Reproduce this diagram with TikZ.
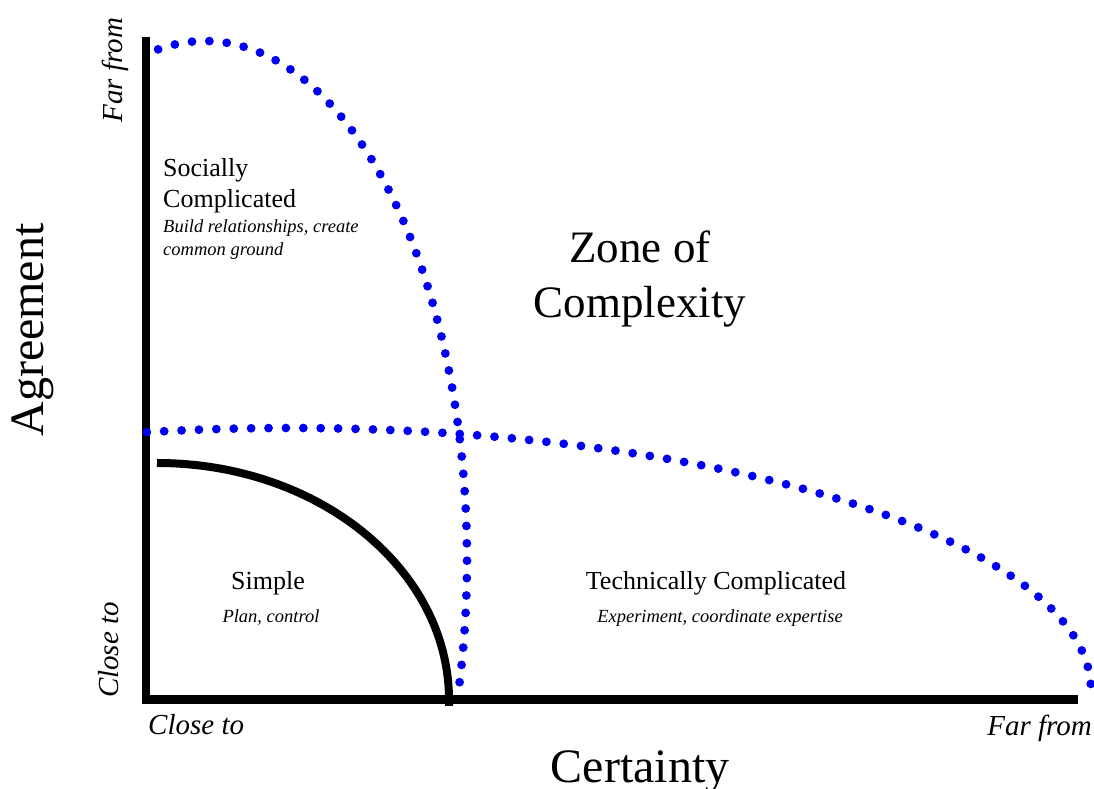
\documentclass[tikz,border=0pt]{standalone}
\usepackage{fontspec}
\setmainfont{Liberation Serif}
\definecolor{dotblue}{RGB}{0,0,240}
\tikzset{
  axisline/.style={line width=8.5pt, line cap=butt, line join=miter, black},
  simplearc/.style={line width=8pt, black},
  dotline/.style={dotblue, line width=8.8pt, line cap=round, dash pattern=on 0pt off 17.4pt},
  lbl/.style={inner sep=0pt, anchor=base},
}
\newcommand{\fs}[1]{\fontsize{#1}{#1}\selectfont}
\begin{document}
\begin{tikzpicture}[x=1pt,y=1pt]
\useasboundingbox (0,0) rectangle (1094,789);
% axes
\coordinate (top) at (146,752);
\coordinate (origin) at (146,89.5);
\coordinate (right) at (1078,89.5);
\draw[axisline] (top) -- (origin) -- (right);
% simple arc
\coordinate (arcstart) at (157,326);
\coordinate (arcend) at (449,83);
\draw[simplearc] (arcstart) arc[start angle=90, end angle=0, x radius=292, y radius=237] -- (arcend);
% dotted curves
\coordinate (d1start) at ({205+262*cos(100.3)},{229+519*sin(100.3)});
\draw[dotline] (d1start) arc[start angle=100.3, end angle=-14.5, x radius=262, y radius=519];
\coordinate (d2start) at ({290+801*cos(100.3)},{99+262*sin(100.3)});
\draw[dotline] (d2start) arc[start angle=100.3, end angle=1, x radius=801, y radius=262];
% axis titles
\node[lbl, rotate=90] (agree) at (43,459) {\fs{48}Agreement};
\node[lbl] (cert) at (640,6) {\fs{48}Certainty};
% axis end labels
\node[lbl, rotate=90] (yfar) at (122,719) {\fs{29}\itshape Far from};
\node[lbl, rotate=90] (yclose) at (118,139) {\fs{29}\itshape Close to};
\node[lbl, anchor=base west] (xclose) at (148,54) {\fs{29}\itshape Close to};
\node[lbl, anchor=base east] (xfar) at (1092,53) {\fs{29}\itshape Far from};
% zone labels
\node[lbl, anchor=base west] (soc1) at (163,612) {\fs{26}Socially};
\node[lbl, anchor=base west] (soc2) at (163,581) {\fs{26}Complicated};
\node[lbl, anchor=base west] (soc3) at (163,556) {\fs{18.5}\itshape Build relationships, create};
\node[lbl, anchor=base west] (soc4) at (163,533) {\fs{18.5}\itshape common ground};
\node[lbl] (zone1) at (640,526) {\fs{45}Zone of};
\node[lbl] (zone2) at (640,471) {\fs{45}Complexity};
\node[lbl] (simp1) at (268,199) {\fs{26}Simple};
\node[lbl] (simp2) at (271,166) {\fs{18.5}\itshape Plan, control};
\node[lbl] (tech1) at (716,199) {\fs{26}Technically Complicated};
\node[lbl] (tech2) at (720,166) {\fs{18.5}\itshape Experiment, coordinate expertise};
\end{tikzpicture}
\end{document}
